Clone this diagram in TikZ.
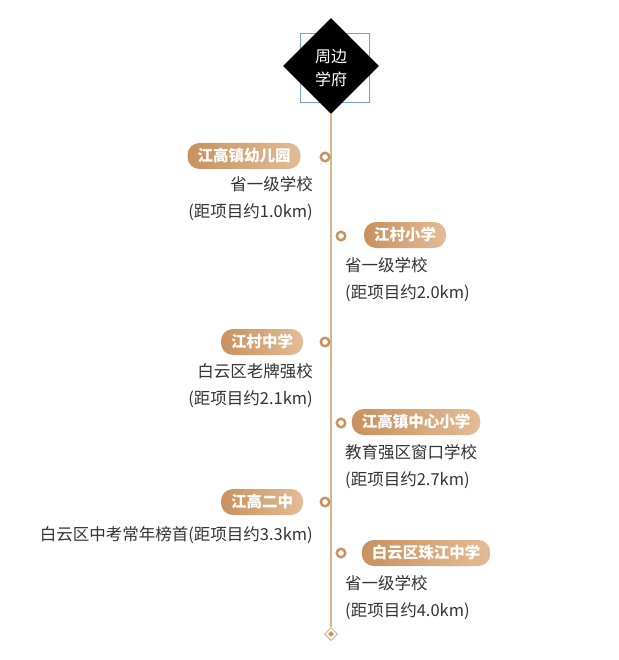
\documentclass[tikz,border=0pt]{standalone}
\usepackage{fontspec}
\setmainfont{Noto Sans CJK SC}
\usetikzlibrary{shapes.geometric}
\definecolor{tanL}{HTML}{C8915F}
\definecolor{tanR}{HTML}{E3BC95}
\definecolor{lineC}{HTML}{D9B48C}
\definecolor{txt}{HTML}{333333}
\begin{document}
\begin{tikzpicture}[x=1pt,y=-1pt,
  pill/.style={rounded corners=12pt,left color=tanL,right color=tanR,draw=none,text=white,font=\fontsize{15.5}{15.5}\selectfont\bfseries,minimum height=26pt,inner xsep=10pt},
  dotc/.style={circle,draw=tanL,line width=2.4pt,fill=white,inner sep=0pt,minimum size=8.5pt},
  desc/.style={text=txt,font=\fontsize{16.5}{27}\selectfont,inner sep=0pt}]
\useasboundingbox[fill=white] (0,0) rectangle (618,660);
\draw[draw={rgb,255:red,120;green,160;blue,210},line width=0.7pt] (300,33) rectangle (369,102);
\node[diamond,fill=black,minimum width=96pt,minimum height=96pt,inner sep=0pt] (top) at (331,66) {};
\node[text=white,font=\fontsize{16}{23}\selectfont,align=center] (toptxt) at (331,68) {周边\\学府};
\node[diamond,draw=lineC,line width=1pt,fill=white,minimum size=13pt,inner sep=0pt] (bot) at (331,634) {};
\node[diamond,fill=tanL,minimum size=6pt,inner sep=0pt] (botin) at (331,634) {};
\draw[lineC,line width=1.2pt] (top.south) -- (bot.north);
% items
\node[pill] (p1) at (244,156) {江高镇幼儿园};
\node[dotc] (d1) at (325,157) {};
\node[desc,anchor=east,align=right] (t1) at (313,199) {省一级学校\\(距项目约1.0km)};
\node[pill] (p2) at (405,235) {江村小学};
\node[dotc] (d2) at (341,236) {};
\node[desc,anchor=west,align=left] (t2) at (345,280) {省一级学校\\(距项目约2.0km)};
\node[pill] (p3) at (262,342) {江村中学};
\node[dotc] (d3) at (325,342) {};
\node[desc,anchor=east,align=right] (t3) at (313,386) {白云区老牌强校\\(距项目约2.1km)};
\node[pill] (p4) at (416,422) {江高镇中心小学};
\node[dotc] (d4) at (341,423) {};
\node[desc,anchor=west,align=left] (t4) at (345,467) {教育强区窗口学校\\(距项目约2.7km)};
\node[pill] (p5) at (262,502) {江高二中};
\node[dotc] (d5) at (325,502) {};
\node[desc,anchor=east] (t5) at (313,535) {白云区中考常年榜首(距项目约3.3km)};
\node[pill] (p6) at (426,553) {白云区珠江中学};
\node[dotc] (d6) at (341,553) {};
\node[desc,anchor=west,align=left] (t6) at (345,598) {省一级学校\\(距项目约4.0km)};
\end{tikzpicture}
\end{document}
